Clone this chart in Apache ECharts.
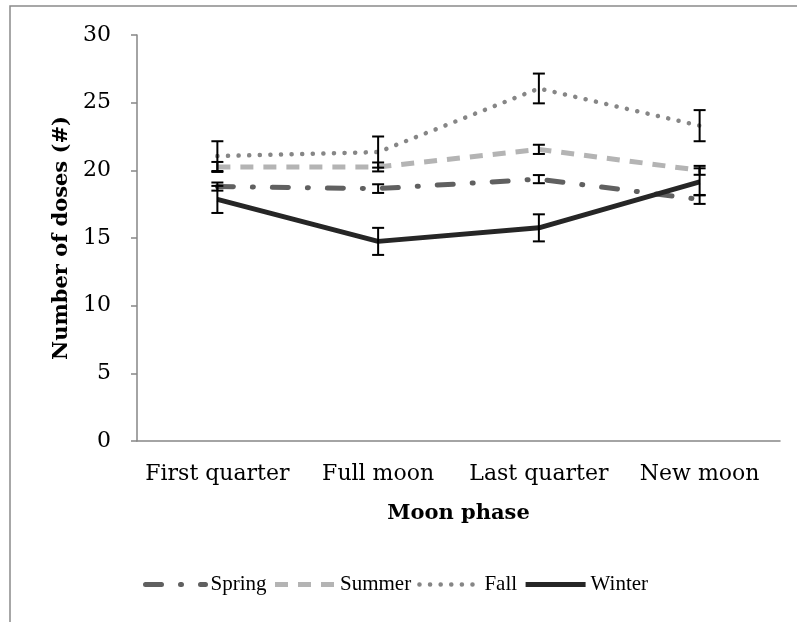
<!DOCTYPE html>
<html>
<head>
<meta charset="utf-8">
<script src="https://cdn.jsdelivr.net/npm/echarts@6/dist/echarts.min.js"></script>
<style>
  html, body { margin: 0; padding: 0; background: #fff; }
  #chart { width: 797px; height: 622px; }
</style>
</head>
<body>
<div id="chart"></div>
<script>
// moon phases on the x axis
const phases = ['First quarter', 'Full moon', 'Last quarter', 'New moon']

// mean number of doses per season
const spring = [18.8, 18.65, 19.35, 17.85]
const summer = [20.25, 20.25, 21.55, 20.0]
const fall = [21.05, 21.35, 26.05, 23.3]
const winter = [17.85, 14.75, 15.75, 19.15]

// error bar half-widths
const springErr = [0.3, 0.32, 0.3, 0.33]
const summerErr = [0.37, 0.33, 0.34, 0.33]
const fallErr = [1.1, 1.15, 1.1, 1.15]
const winterErr = [1.0, 1.0, 1.0, 1.0]

const seasons = ['Spring', 'Summer', 'Fall', 'Winter']

const chart = echarts.init(document.getElementById('chart'))

const lineStyles = {
    Spring: { color: '#606060', width: 5, type: [16, 19, 1, 19], cap: 'round' },
    Summer: { color: '#b4b4b4', width: 5, type: [13, 10], cap: 'butt' },
    Fall: { color: '#868686', width: 4.5, type: [0.1, 10.5], cap: 'round' },
    Winter: { color: '#262626', width: 5, type: 'solid', cap: 'butt' },
}

const lineSeries = (name, data) => ({
    type: 'line',
    name,
    data,
    symbol: 'none',
    legendIcon: 'none',
    z: 3,
    lineStyle: lineStyles[name],
    itemStyle: { color: lineStyles[name].color },
})

const errSeries = (name, vals, errs) => ({
    type: 'custom',
    name: name + ' error',
    z: 5,
    silent: true,
    data: vals.map((v, i) => [i, v, errs[i]]),
    renderItem: (params, api) => {
        const i = api.value(0)
        const v = api.value(1)
        const e = api.value(2)
        const top = api.coord([i, v + e])
        const bot = api.coord([i, v - e])
        const hw = 6
        const style = { stroke: '#000', lineWidth: 2 }
        return {
            type: 'group',
            children: [
                { type: 'line', shape: { x1: top[0], y1: top[1], x2: bot[0], y2: bot[1] }, style },
                { type: 'line', shape: { x1: top[0] - hw, y1: top[1], x2: top[0] + hw, y2: top[1] }, style },
                { type: 'line', shape: { x1: bot[0] - hw, y1: bot[1], x2: bot[0] + hw, y2: bot[1] }, style },
            ],
        }
    },
})

const serif = '"DejaVu Serif", serif'
const axisGray = '#868686'

chart.setOption({
    animation: false,
    backgroundColor: '#fff',
    graphic: [
        {
            type: 'rect',
            shape: { x: 10, y: 6, width: 900, height: 800 },
            style: { fill: 'none', stroke: '#8a8a8a', lineWidth: 1.5 },
            silent: true,
        },
    ],
    grid: { left: 137, right: 17, top: 35, bottom: 181 },
    legend: {
        data: seasons.map((name) => ({ name, lineStyle: lineStyles[name] })),
        bottom: 22,
        left: 138,
        itemWidth: 60,
        itemHeight: 14,
        itemGap: 6,
        itemStyle: { opacity: 0 },
        textStyle: { fontFamily: '"Liberation Serif", serif', fontSize: 21, color: '#000' },
    },
    xAxis: {
        type: 'category',
        data: phases,
        name: 'Moon phase',
        nameLocation: 'middle',
        nameGap: 62,
        nameTextStyle: { fontFamily: serif, fontSize: 21, fontWeight: 'bold', color: '#000' },
        axisLine: { lineStyle: { color: axisGray, width: 1.5 } },
        axisTick: { length: 6, interval: 0, lineStyle: { color: axisGray, width: 1.5 } },
        axisLabel: { fontFamily: serif, fontSize: 22, color: '#000', margin: 22, interval: 0 },
        splitLine: { show: false },
    },
    yAxis: {
        type: 'value',
        min: 0,
        max: 30,
        interval: 5,
        name: 'Number of doses (#)',
        nameLocation: 'middle',
        nameGap: 64,
        nameTextStyle: { fontFamily: serif, fontSize: 21, fontWeight: 'bold', color: '#000' },
        axisLine: { show: true, lineStyle: { color: axisGray, width: 1.5 } },
        axisTick: { show: true, length: 6, lineStyle: { color: axisGray, width: 1.5 } },
        axisLabel: { fontFamily: serif, fontSize: 22, color: '#000', margin: 26 },
        splitLine: { show: false },
    },
    series: [
        lineSeries('Spring', spring),
        lineSeries('Summer', summer),
        lineSeries('Fall', fall),
        lineSeries('Winter', winter),
        errSeries('Spring', spring, springErr),
        errSeries('Summer', summer, summerErr),
        errSeries('Fall', fall, fallErr),
        errSeries('Winter', winter, winterErr),
    ],
})
</script>
</body>
</html>
